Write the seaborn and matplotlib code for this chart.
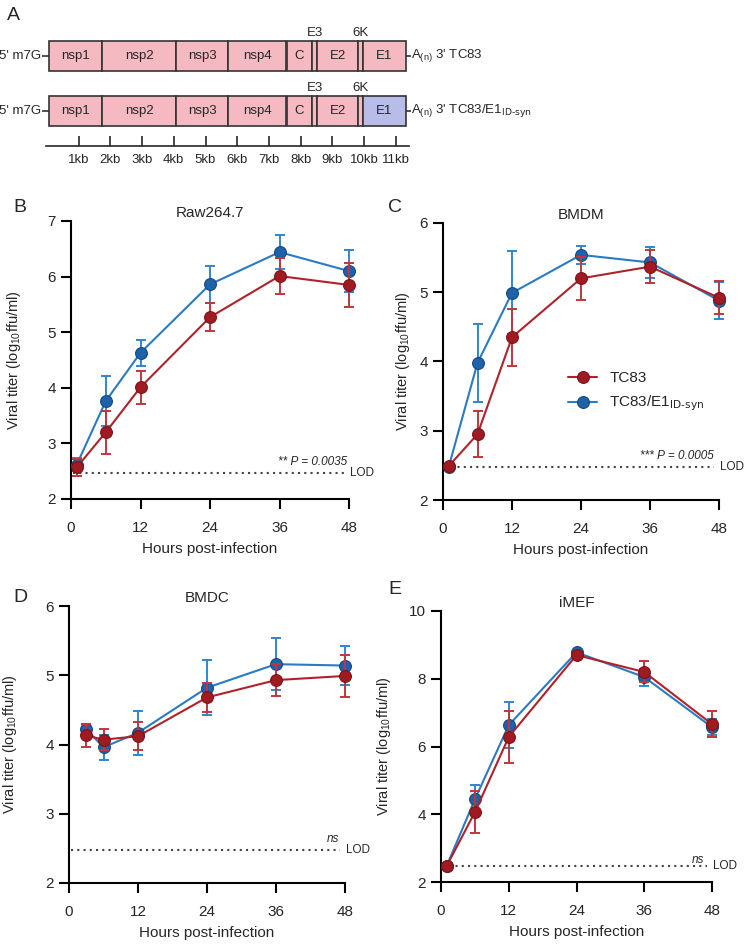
import numpy as np
import matplotlib
matplotlib.use("Agg")
import matplotlib.pyplot as plt
from matplotlib import font_manager
import seaborn as sns

# --- genome map (panel A), positions in kb ---
genes = ["nsp1", "nsp2", "nsp3", "nsp4", "C", "E3", "E2", "6K", "E1"]
gene_start = [0.06, 1.74, 4.07, 5.71, 7.57, 8.36, 8.52, 9.81, 9.97]
gene_end = [1.74, 4.07, 5.71, 7.54, 8.36, 8.52, 9.81, 9.97, 11.32]
constructs = ["TC83", "TC83/E1$_{\\text{ID-syn}}$"]
kb_ticks = [1, 2, 3, 4, 5, 6, 7, 8, 9, 10, 11]

# --- growth curves ---
LOD = 2.47

B_hours = [1, 6, 12, 24, 36, 48]
B_tc83 = [2.57, 3.20, 4.01, 5.27, 6.01, 5.85]
B_tc83_sd = [0.15, 0.39, 0.30, 0.25, 0.33, 0.39]
B_e1 = [2.62, 3.76, 4.63, 5.86, 6.44, 6.10]
B_e1_sd = [0.12, 0.45, 0.23, 0.33, 0.31, 0.37]

C_hours = [1, 6, 12, 24, 36, 48]
C_tc83 = [2.49, 2.95, 4.35, 5.20, 5.37, 4.92]
C_tc83_sd = [0.03, 0.33, 0.41, 0.31, 0.24, 0.24]
C_e1 = [2.48, 3.98, 4.99, 5.54, 5.43, 4.88]
C_e1_sd = [0.03, 0.56, 0.60, 0.13, 0.22, 0.27]

D_hours = [3, 6, 12, 24, 36, 48]
D_tc83 = [4.13, 4.07, 4.12, 4.68, 4.93, 4.99]
D_tc83_sd = [0.16, 0.15, 0.20, 0.21, 0.23, 0.30]
D_e1 = [4.22, 3.96, 4.17, 4.82, 5.16, 5.14]
D_e1_sd = [0.08, 0.18, 0.32, 0.40, 0.38, 0.28]

E_hours = [1, 6, 12, 24, 36, 48]
E_tc83 = [2.47, 4.06, 6.28, 8.70, 8.20, 6.66]
E_tc83_sd = [0.05, 0.62, 0.77, 0.08, 0.31, 0.38]
E_e1 = [2.47, 4.44, 6.63, 8.78, 8.05, 6.57]
E_e1_sd = [0.05, 0.43, 0.68, 0.08, 0.25, 0.23]

sns.set_style("ticks")
plt.rcParams['font.family'] = ['Liberation Sans', 'DejaVu Sans']
plt.rcParams['mathtext.default'] = 'regular'

# the genome map text is narrow in the original
installed = {f.name for f in font_manager.fontManager.ttflist}
if "Liberation Sans Narrow" in installed:
    a_font, a_size, kb_size = "Liberation Sans Narrow", 11.5, 11
else:
    a_font, a_size, kb_size = "Liberation Sans", 9.5, 9.5

W, H = 750, 951
fig = plt.figure(figsize=(7.5, 9.51), dpi=100)


def px_axes(l, t, r, b):
    return fig.add_axes([l / W, 1 - b / H, (r - l) / W, (b - t) / H])


# ================= Panel A =================
KB_PX = 31.7
X0 = 47
ax_a = fig.add_axes([0, 1 - 170 / H, 1, 170 / H])
ax_a.set_xlim(-X0 / KB_PX, (W - X0) / KB_PX)
ax_a.set_ylim(170, 0)
ax_a.axis("off")

pink = "#F4B9C1"
lav = "#B7BDE8"
edge = "#333333"
row_y = [56, 111]
widths = np.array(gene_end) - np.array(gene_start)
for r, (y, name) in enumerate(zip(row_y, constructs)):
    fills = [pink] * len(genes)
    if r == 1:
        fills[-1] = lav
    ax_a.barh(y, widths, left=gene_start, height=30, color=fills,
              edgecolor=edge, linewidth=1.2)
    for g, s, e in zip(genes, gene_start, gene_end):
        ty = y - 23 if g in ("E3", "6K") else y
        ax_a.text((s + e) / 2, ty, g, ha="center", va="center",
                  fontsize=a_size, family=a_font)
    ax_a.hlines(y, -0.15, gene_start[0], color=edge, lw=1.2)
    ax_a.hlines(y, gene_end[-1], gene_end[-1] + 0.15, color=edge, lw=1.2)
    ax_a.text(-0.17, y, "5' m7G", ha="right", va="center", fontsize=a_size, family=a_font)
    ax_a.text(gene_end[-1] + 0.16, y, "A$_{(n)}$ 3' " + name, ha="left", va="center",
              fontsize=a_size, family=a_font)

ax_s = fig.add_axes([0, 1 - 146 / H, 1, 0.001])
ax_s.set_xlim(ax_a.get_xlim())
for s in ["left", "right", "top"]:
    ax_s.spines[s].set_visible(False)
ax_s.spines["bottom"].set_bounds(-0.03, 11.42)
ax_s.spines["bottom"].set_linewidth(1.2)
ax_s.set_yticks([])
ax_s.set_xticks(kb_ticks)
ax_s.set_xticklabels([f"{k}kb" for k in kb_ticks], fontsize=kb_size, family=a_font)
ax_s.tick_params(axis="x", direction="in", length=7.5, width=1.2, pad=6)
ax_s.patch.set_alpha(0)

fig.text(13 / W, 1 - 16 / H, "A", fontsize=14, ha="center", va="center")

# ================= growth curves =================
red_line, red_face, red_edge, red_err = "#B0222A", "#A01B21", "#7D1218", "#C2363D"
blue_line, blue_face, blue_edge, blue_err = "#2A7BC4", "#1D62AA", "#16477F", "#2F86CF"

panels = [
    ("B", "Raw264.7", (71, 221, 349, 499), 23, B_hours, B_tc83, B_tc83_sd, B_e1, B_e1_sd,
     (2, 7), [2, 3, 4, 5, 6, 7], "** P = 0.0035", (47.6, 2.66)),
    ("C", "BMDM", (443, 223, 719, 500), 412, C_hours, C_tc83, C_tc83_sd, C_e1, C_e1_sd,
     (2, 6), [2, 3, 4, 5, 6], "*** P = 0.0005", (47.0, 2.64)),
    ("D", "BMDC", (69, 606, 345, 883), 19, D_hours, D_tc83, D_tc83_sd, D_e1, D_e1_sd,
     (2, 6), [2, 3, 4, 5, 6], "ns", (45.9, 2.63)),
    ("E", "iMEF", (441, 611, 712, 882), 393, E_hours, E_tc83, E_tc83_sd, E_e1, E_e1_sd,
     (2, 10), [2, 4, 6, 8, 10], "ns", (45.5, 2.66)),
]
letter_pos = {"B": (20, 207), "C": (395, 207), "D": (20, 597), "E": (395, 590)}

for letter, title, box, ylab_x, hours, tc, tc_sd, e1, e1_sd, ylim, yticks, note, note_xy in panels:
    ax = px_axes(*box)
    # blue first, red drawn on top
    series = [
        (e1, e1_sd, blue_line, blue_face, blue_edge, blue_err, constructs[1], 3),
        (tc, tc_sd, red_line, red_face, red_edge, red_err, constructs[0], 5),
    ]
    for vals, sd, lc, fc, ec, errc, lab, z in series:
        ax.errorbar(hours, vals, yerr=sd, fmt="none", ecolor=errc, elinewidth=1.4,
                    capsize=3.8, capthick=1.4, clip_on=False, zorder=z)
        sns.lineplot(x=hours, y=vals, ax=ax, color=lc, linewidth=1.5, marker="o",
                     markersize=8.5, markerfacecolor=fc, markeredgecolor=ec,
                     markeredgewidth=0.8, label=lab, clip_on=False, zorder=z + 1)
    if ax.get_legend() is not None:
        ax.get_legend().remove()

    ax.hlines(LOD, 0.3, 47.2, colors="#444444", linestyles=(0, (1, 2)), linewidth=1.5, zorder=1)
    ax.text(48.2, LOD, "LOD", ha="left", va="center", fontsize=8.5, clip_on=False)
    ax.text(note_xy[0], note_xy[1], note, ha="right" if "P" in note else "center",
            va="center", fontsize=8.5, style="italic", clip_on=False)

    ax.set_xlim(0, 48)
    ax.set_ylim(*ylim)
    ax.set_xticks([0, 12, 24, 36, 48])
    ax.set_yticks(yticks)
    sns.despine(ax=ax)
    for s in ["left", "bottom"]:
        ax.spines[s].set_linewidth(1.5)
        ax.spines[s].set_color("black")
    ax.tick_params(axis="both", length=7.5, width=1.5, labelsize=11, color="black")
    ax.tick_params(axis="x", pad=8.5)
    ax.tick_params(axis="y", pad=3.5)
    ax.set_xlabel("Hours post-infection", fontsize=11, labelpad=5)
    ax.set_ylabel("Viral titer (log$_{10}$ffu/ml)", fontsize=10.5)
    ax.yaxis.set_label_coords((ylab_x - box[0]) / (box[2] - box[0]), 0.5)
    ax.set_title(title, fontsize=11, pad=3)
    lx, ly = letter_pos[letter]
    fig.text(lx / W, 1 - ly / H, letter, fontsize=14, ha="center", va="center")

    if letter == "C":
        handles, labels = ax.get_legend_handles_labels()
        order = [labels.index(constructs[0]), labels.index(constructs[1])]
        ax.legend([handles[i] for i in order], [labels[i] for i in order],
                  loc="upper left", bbox_to_anchor=(568 / W, 1 - 371 / H),
                  bbox_transform=fig.transFigure, frameon=False, fontsize=11,
                  handlelength=1.9, handletextpad=0.8, labelspacing=0.6,
                  borderaxespad=0, borderpad=0)

fig.savefig("out.png", dpi=100)
